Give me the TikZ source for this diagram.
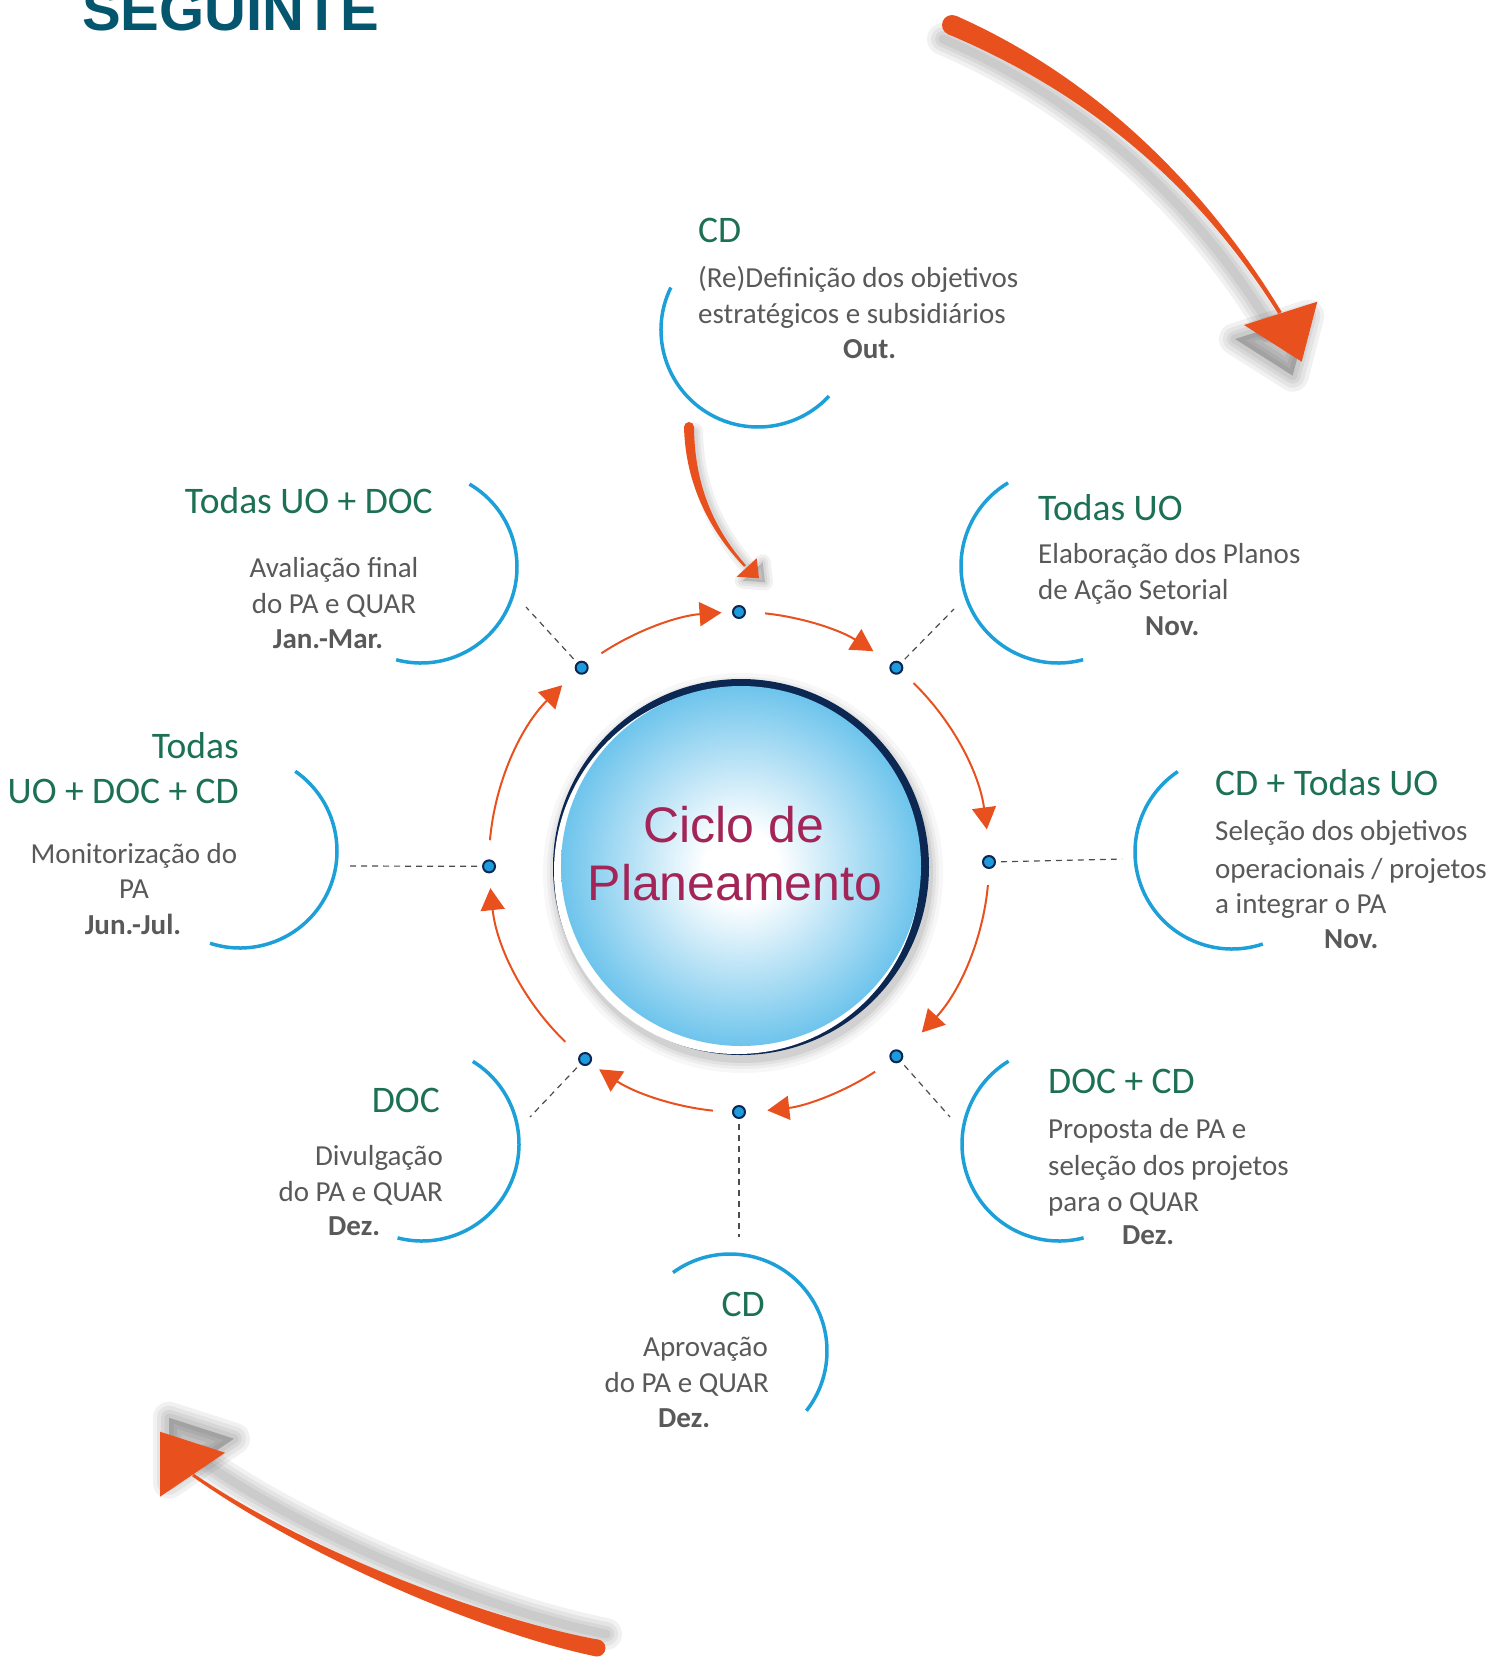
\documentclass[tikz,border=0pt]{standalone}
\usepackage{fontspec}
\setmainfont{Carlito}
\newfontfamily\arialf{Liberation Sans}
\usetikzlibrary{arrows.meta}
\definecolor{orng}{RGB}{232,81,30}
\definecolor{cblue}{RGB}{29,160,216}
\definecolor{tgreen}{RGB}{28,112,84}
\definecolor{tgray}{RGB}{89,89,89}
\definecolor{navy}{RGB}{12,40,82}
\definecolor{dotblue}{RGB}{30,155,220}
\definecolor{ttlblue}{RGB}{4,86,110}
\definecolor{maroon}{RGB}{163,37,87}
\definecolor{ballblue}{RGB}{110,196,236}
\pgfdeclareradialshading{ballshade}{\pgfpoint{0bp}{0bp}}{color(0bp)=(white); color(5bp)=(white); color(25bp)=(ballblue); color(50bp)=(ballblue)}

% big decorative arrows (pixel coordinates, y negated)
\newcommand\arrowTR[1]{%
  \fill[#1] (956,-15.8) .. controls (1083.5,-72) and (1197,-173) .. (1281.7,-312) -- (1278.3,-314) .. controls (1193,-177) and (1076.5,-88) .. (948,-34.2) -- cycle;
  \fill[#1] (952,-25) circle[radius=10];
  \fill[#1] (1244,-325) -- (1317.3,-301.7) -- (1301.7,-361.7) -- cycle;}
\newcommand\shadowTR[1]{%
  \draw[#1] (952,-25) .. controls (1080,-80) and (1195,-175) .. (1280,-313);
  \filldraw[#1] (1244,-325) -- (1317.3,-301.7) -- (1301.7,-361.7) -- cycle;}
\newcommand\arrowBL[1]{%
  \fill[#1] (598.6,-1639.7) .. controls (481.4,-1618) and (301.2,-1547.5) .. (193.9,-1473.8) -- (192.1,-1476.2) .. controls (298.8,-1552.5) and (478.6,-1632) .. (595.4,-1656.3) -- cycle;
  \fill[#1] (597,-1648) circle[radius=8.5];
  \fill[#1] (160,-1431.7) -- (225,-1452.7) -- (160,-1496.7) -- cycle;}
\newcommand\shadowBL[1]{%
  \draw[#1] (597,-1648) .. controls (480,-1625) and (300,-1550) .. (193,-1475);
  \filldraw[#1] (160,-1431.7) -- (225,-1452.7) -- (160,-1496.7) -- cycle;}
\newcommand\arrowSM[1]{%
  \fill[#1] (694,-427) .. controls (694.5,-485) and (714,-529) .. (745.9,-565.2) -- (744.1,-566.8) .. controls (710,-531) and (685.5,-485) .. (684,-427) -- cycle;
  \fill[#1] (689,-427) circle[radius=5];
  \fill[#1] (736.7,-576.7) -- (756.7,-558.3) -- (759,-578.3) -- cycle;}
\newcommand\shadowSM[1]{%
  \draw[#1] (689,-427) .. controls (690,-485) and (712,-530) .. (745,-566);
  \filldraw[#1] (736.7,-576.7) -- (756.7,-558.3) -- (759,-578.3) -- cycle;}

\begin{document}
\begin{tikzpicture}[x=1pt,y=1pt,
  ttl/.style={text=tgreen, font=\fontsize{37.5}{44}\selectfont, inner sep=0},
  bdy/.style={text=tgray, font=\fontsize{29}{34}\selectfont, inner sep=0},
  bld/.style={text=tgray, font=\fontsize{29}{34}\selectfont\bfseries, inner sep=0},
  callout/.style={draw=cblue, line width=3.5pt},
  cyc/.style={draw=orng, line width=2pt, -{Triangle[length=22pt,width=24pt]}},
  dsh/.style={draw=black!70, line width=1.2pt, dash pattern=on 6pt off 5pt, shorten <=5pt},
  dotn/.style={circle, minimum size=12pt, inner sep=0pt, fill=dotblue, draw=navy, line width=2pt},
  shd/.style={draw=black, opacity=0.055, line width=#1, line cap=round, line join=round}
]
\useasboundingbox (0,0) rectangle (1497,-1660);
\clip (0,0) rectangle (1497,-1660);

% title
\node[anchor=base west, inner sep=0, text=ttlblue, font=\arialf\bfseries\fontsize{58}{60}\selectfont] (titre) at (82,-30) {SEGUINTE};

% big arrows with soft shadows
\foreach \w in {32,24,16,9} {\shadowTR{shd=\w pt, shift={(-9,-14)}}}
\arrowTR{orng}
\foreach \w in {32,24,16,9} {\shadowBL{shd=\w pt, shift={(9,14)}}}
\arrowBL{orng}
\foreach \w in {16,10,5} {\shadowSM{shd=\w pt, shift={(6,-4)}}}
\arrowSM{orng}

% centres
\coordinate (cen) at (739,-862);
\coordinate (cT) at (758,-330);
\coordinate (cTUO) at (1058,-566);
\coordinate (cCDT) at (1232,-852);
\coordinate (cDCD) at (1059,-1144);
\coordinate (cB) at (730,-1351);
\coordinate (cDOC) at (422,-1144);
\coordinate (cL) at (240,-851);
\coordinate (cTL) at (421,-567);

% central disc
\foreach \r/\o in {200/0.03,196/0.04,193/0.05,190/0.07} {\fill[black,opacity=\o] (743,-873) circle[radius=\r];}
\fill[navy] (741,-867) circle[radius=188];
\fill[white] (737,-871) circle[radius=183];
\shade[shading=ballshade] (741,-866) circle[radius=180];
\node[anchor=base, inner sep=0, text=maroon, font=\arialf\fontsize{50}{58}\selectfont] (ciclo1) at (734,-842) {Ciclo de};
\node[anchor=base, inner sep=0, text=maroon, font=\arialf\fontsize{50}{58}\selectfont] (ciclo2) at (735,-900) {Planeamento};

% dots on the cycle
\node[dotn] (dT)  at ([shift={(90:250)}]cen) {};
\node[dotn] (dTR) at ([shift={(51:250)}]cen) {};
\node[dotn] (dR)  at ([shift={(0:250)}]cen) {};
\node[dotn] (dBR) at ([shift={(-51:250)}]cen) {};
\node[dotn] (dB)  at ([shift={(-90:250)}]cen) {};
\node[dotn] (dBL) at ([shift={(-128:250)}]cen) {};
\node[dotn] (dL)  at ([shift={(-179:250)}]cen) {};
\node[dotn] (dTL) at ([shift={(129:250)}]cen) {};

% cycle arrows
\draw[cyc] ([shift={(123.4:250)}]cen) arc[start angle=123.4, end angle=94, radius=250];
\draw[cyc] ([shift={(84:250)}]cen) arc[start angle=84, end angle=57.5, radius=250];
\draw[cyc] ([shift={(45.7:250)}]cen) arc[start angle=45.7, end angle=7.5, radius=250];
\draw[cyc] ([shift={(-5.3:250)}]cen) arc[start angle=-5.3, end angle=-43, radius=250];
\draw[cyc] ([shift={(-57:250)}]cen) arc[start angle=-57, end angle=-83.5, radius=250];
\draw[cyc] ([shift={(-96:250)}]cen) arc[start angle=-96, end angle=-124, radius=250];
\draw[cyc] ([shift={(-134:250)}]cen) arc[start angle=-134, end angle=-174, radius=250];
\draw[cyc] ([shift={(175:250)}]cen) arc[start angle=175, end angle=135, radius=250];

% dashed links
\coordinate (eTL) at (526,-607);
\coordinate (eTR) at (954,-609);
\coordinate (eR) at (1122,-859);
\coordinate (eBR) at (950,-1117);
\coordinate (eB) at (739,-1237);
\coordinate (eBL) at (530,-1117);
\coordinate (eL) at (350,-866);
\draw[dsh] (dTL) -- (eTL);
\draw[dsh] (dTR) -- (eTR);
\draw[dsh] (dR) -- (eR);
\draw[dsh] (dBR) -- (eBR);
\draw[dsh] (dB) -- (eB);
\draw[dsh] (dBL) -- (eBL);
\draw[dsh] (dL) -- (eL);

% callout arcs
\draw[callout] ([shift={(154:97)}]cT) arc[start angle=154, end angle=317, radius=97];
\draw[callout] ([shift={(121:97)}]cTUO) arc[start angle=121, end angle=285, radius=97];
\draw[callout] ([shift={(124:97)}]cCDT) arc[start angle=124, end angle=288.5, radius=97];
\draw[callout] ([shift={(121.3:97)}]cDCD) arc[start angle=121.3, end angle=284.7, radius=97];
\draw[callout] ([shift={(126:97)}]cB) arc[start angle=126, end angle=-38, radius=97];
\draw[callout] ([shift={(58.4:97)}]cDOC) arc[start angle=58.4, end angle=-104.6, radius=97];
\draw[callout] ([shift={(55.3:97)}]cL) arc[start angle=55.3, end angle=-108, radius=97];
\draw[callout] ([shift={(59.7:96)}]cTL) arc[start angle=59.7, end angle=-105, radius=96];

% texts: top CD
\node[ttl, anchor=base west] (t1) at (698,-242) {CD};
\node[bdy, anchor=base west] (t1a) at (698,-287) {(Re)Definição dos objetivos};
\node[bdy, anchor=base west] (t1b) at (698,-323) {estratégicos e subsidiários};
\node[bld, anchor=base west] (t1c) at (843,-358) {Out.};
% Todas UO
\node[ttl, anchor=base west] (t2) at (1038,-520) {Todas UO};
\node[bdy, anchor=base west] (t2a) at (1038,-563) {Elaboração dos Planos};
\node[bdy, anchor=base west] (t2b) at (1038,-599) {de Ação Setorial};
\node[bld, anchor=base west] (t2c) at (1145,-635) {Nov.};
% CD + Todas UO
\node[ttl, anchor=base west] (t3) at (1215,-795) {CD + Todas UO};
\node[bdy, anchor=base west] (t3a) at (1215,-840) {Seleção dos objetivos};
\node[bdy, anchor=base west] (t3b) at (1215,-878) {operacionais / projetos};
\node[bdy, anchor=base west] (t3c) at (1215,-913) {a integrar o PA};
\node[bld, anchor=base west] (t3d) at (1324,-948) {Nov.};
% DOC + CD
\node[ttl, anchor=base west] (t4) at (1048,-1093) {DOC + CD};
\node[bdy, anchor=base west] (t4a) at (1048,-1138) {Proposta de PA e};
\node[bdy, anchor=base west] (t4b) at (1048,-1175) {seleção dos projetos};
\node[bdy, anchor=base west] (t4c) at (1048,-1211) {para o QUAR};
\node[bld, anchor=base west] (t4d) at (1122,-1244) {Dez.};
% bottom CD
\node[ttl, anchor=base east] (t5) at (765,-1316) {CD};
\node[bdy, anchor=base east] (t5a) at (768,-1356) {Aprovação};
\node[bdy, anchor=base east] (t5b) at (769,-1392) {do PA e QUAR};
\node[bld, anchor=base west] (t5c) at (658,-1427) {Dez.};
% DOC
\node[ttl, anchor=base east] (t6) at (440,-1112) {DOC};
\node[bdy, anchor=base east] (t6a) at (443,-1165) {Divulgação};
\node[bdy, anchor=base east] (t6b) at (443,-1201) {do PA e QUAR};
\node[bld, anchor=base west] (t6c) at (328,-1235) {Dez.};
% Todas UO + DOC + CD
\node[ttl, anchor=base east] (t7) at (239,-758) {Todas};
\node[ttl, anchor=base east] (t7x) at (239,-803) {UO + DOC + CD};
\node[bdy, anchor=base] (t7a) at (134,-863) {Monitorização do};
\node[bdy, anchor=base] (t7b) at (134,-898) {PA};
\node[bld, anchor=base] (t7c) at (133,-934) {Jun.-Jul.};
% Todas UO + DOC
\node[ttl, anchor=base east] (t8) at (433,-513) {Todas UO + DOC};
\node[bdy, anchor=base] (t8a) at (334,-577) {Avaliação final};
\node[bdy, anchor=base] (t8b) at (334,-613) {do PA e QUAR};
\node[bld, anchor=base] (t8c) at (328,-648) {Jan.-Mar.};
\end{tikzpicture}
\end{document}
